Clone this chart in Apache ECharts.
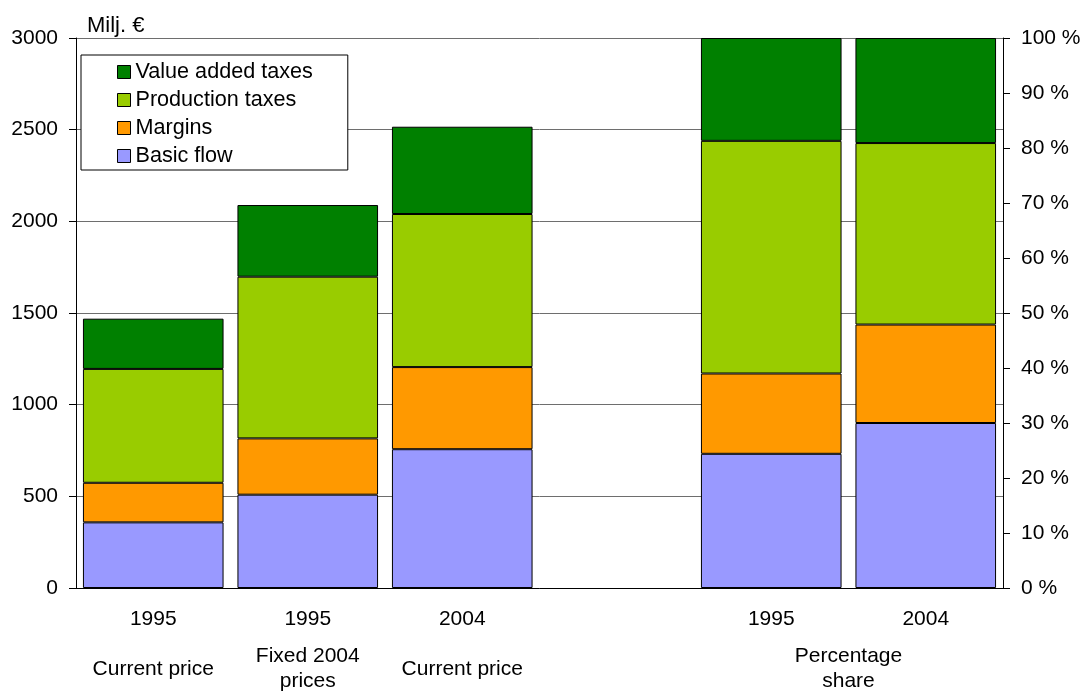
<!DOCTYPE html>
<html lang="en">
<head>
    <meta charset="UTF-8">
    <title>Basic flow and taxes</title>
    <style>
        body, html {
            margin: 0;
            padding: 0;
            width: 100%;
            height: 100%;
            background: #fff;
        }

        #main {
            width: 1085px;
            height: 691px;
        }
    </style>
</head>
<body>
<div id="main"></div>
<script src="https://cdn.jsdelivr.net/npm/echarts@6/dist/echarts.min.js"></script>
<script>

    // categories (index 3 is the empty slot between the two groups)
    let years = ['1995', '1995', '2004', '', '1995', '2004'];
    let groups = [
        {text: 'Current price', from: 0, to: 0},
        {text: 'Fixed 2004\nprices', from: 1, to: 1},
        {text: 'Current price', from: 2, to: 2},
        {text: 'Percentage\nshare', from: 4, to: 5}
    ];

    // Milj. €, left axis
    let basicFlow = [358, 509, 757, '-', '-', '-'];
    let margins = [216, 307, 448, '-', '-', '-'];
    let productionTaxes = [621, 882, 835, '-', '-', '-'];
    let valueAddedTaxes = [274, 391, 476, '-', '-', '-'];

    // percentage share, right axis
    let basicFlowPct = ['-', '-', '-', '-', 24.4, 30.0];
    let marginsPct = ['-', '-', '-', '-', 14.6, 17.9];
    let productionTaxesPct = ['-', '-', '-', '-', 42.3, 33.0];
    let valueAddedTaxesPct = ['-', '-', '-', '-', 18.7, 19.1];

    let names = ['Basic flow', 'Margins', 'Production taxes', 'Value added taxes'];
    let colors = ['#9999ff', '#ff9900', '#99cc00', '#008000'];

    let font = 'Liberation Sans';
    let fs = 21;

    function barSeries(name, data, stack, axis, color) {
        return {
            name: name,
            type: 'bar',
            stack: stack,
            yAxisIndex: axis,
            data: data,
            barCategoryGap: '9%',
            barGap: '-100%',
            itemStyle: {color: color, borderColor: '#000', borderWidth: 1},
            emphasis: {disabled: true}
        };
    }

    let myChart = echarts.init(document.getElementById('main'));
    let absData = [basicFlow, margins, productionTaxes, valueAddedTaxes];
    let pctData = [basicFlowPct, marginsPct, productionTaxesPct, valueAddedTaxesPct];
    let series = [];
    for (let i = 0; i < names.length; i++) {
        series.push(barSeries(names[i], absData[i], 'abs', 0, colors[i]));
    }
    for (let i = 0; i < names.length; i++) {
        series.push(barSeries(names[i], pctData[i], 'pct', 1, colors[i]));
    }

    let option = {
        animation: false,
        textStyle: {fontFamily: font},
        title: {
            text: 'Milj. €',
            left: 87,
            top: 15,
            padding: 0,
            textStyle: {fontFamily: font, fontSize: 22, fontWeight: 'normal', color: '#000'}
        },
        legend: {
            orient: 'vertical',
            left: 81,
            top: 55,
            data: ['Value added taxes', 'Production taxes', 'Margins', 'Basic flow'],
            icon: 'rect',
            itemWidth: 13,
            itemHeight: 13,
            itemGap: 6,
            padding: [6, 35, 3, 36],
            borderColor: '#000',
            borderWidth: 1,
            backgroundColor: '#fff',
            itemStyle: {borderColor: '#000', borderWidth: 1},
            textStyle: {fontFamily: font, fontSize: 21.6, lineHeight: 22, color: '#000'}
        },
        grid: {
            left: 76,
            right: 82,
            top: 38,
            bottom: 103,
            containLabel: false
        },
        xAxis: {
            type: 'category',
            data: years,
            axisLine: {lineStyle: {color: '#000', width: 1}},
            axisTick: {length: 7, lineStyle: {color: '#000'}},
            axisLabel: {
                interval: 0,
                margin: 21,
                fontFamily: font,
                fontSize: fs,
                color: '#000'
            }
        },
        yAxis: [
            {
                type: 'value',
                min: 0,
                max: 3000,
                interval: 500,
                axisLine: {show: true, lineStyle: {color: '#000'}},
                axisTick: {show: true, length: 7, lineStyle: {color: '#000'}},
                axisLabel: {
                    margin: 18, fontFamily: font, fontSize: fs, color: '#000',
                    formatter: function (v) { return String(v); }
                },
                splitLine: {lineStyle: {color: '#6e6e6e', width: 1}}
            },
            {
                type: 'value',
                min: 0,
                max: 100,
                interval: 10,
                position: 'right',
                axisLine: {show: true, lineStyle: {color: '#000'}},
                axisTick: {show: true, length: 7, lineStyle: {color: '#000'}},
                axisLabel: {margin: 18, fontFamily: font, fontSize: fs, color: '#000', formatter: '{value} %'},
                splitLine: {show: false}
            }
        ],
        series: series
    };

    myChart.setOption(option);

    // group labels under the years, centred on their categories
    let graphics = [];
    let labelY = 669;
    for (let i = 0; i < groups.length; i++) {
        let g = groups[i];
        let x1 = myChart.convertToPixel({xAxisIndex: 0}, g.from);
        let x2 = myChart.convertToPixel({xAxisIndex: 0}, g.to);
        graphics.push({
            type: 'text',
            x: (x1 + x2) / 2,
            y: labelY,
            style: {
                text: g.text,
                fontFamily: font,
                fontSize: fs,
                lineHeight: 25,
                fill: '#000',
                align: 'center',
                verticalAlign: 'middle'
            }
        });
    }
    myChart.setOption({graphic: graphics});

</script>
</body>
</html>
